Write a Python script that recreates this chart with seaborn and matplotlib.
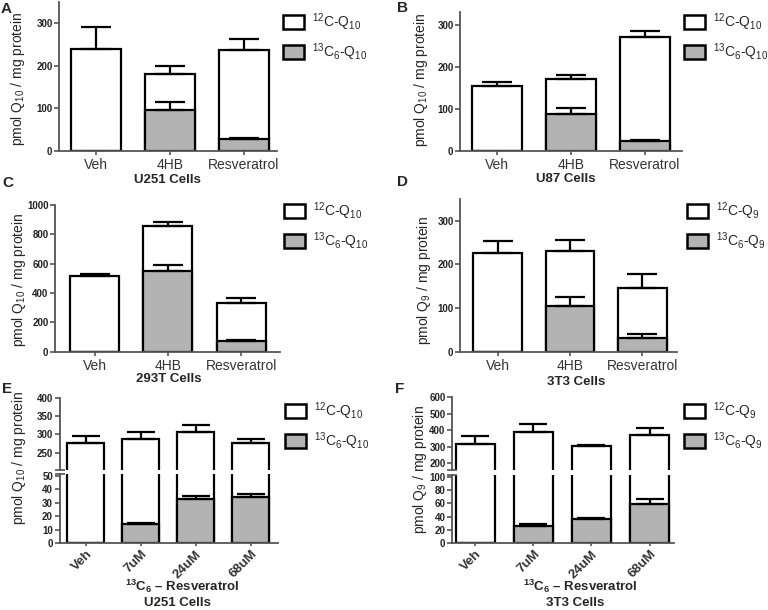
import matplotlib
matplotlib.use("Agg")
import matplotlib.pyplot as plt
import numpy as np
import seaborn as sns
from matplotlib.patches import Patch

sns.set_style("ticks")
plt.rcParams["font.family"] = ["Liberation Sans", "DejaVu Sans"]
plt.rcParams["mathtext.fontset"] = "custom"
plt.rcParams["mathtext.rm"] = "Liberation Sans"
plt.rcParams["mathtext.bf"] = "Liberation Sans:bold"
plt.rcParams["mathtext.default"] = "regular"

W, H = 768, 610
GRAY = "#b3b3b3"
SPINE = "#555555"
LW = 1.6

# ---- data (mean and SD) ----
drug_cats = ["Veh", "4HB", "Resveratrol"]
dose_cats = ["Veh", "7uM", "24uM", "68uM"]

# A: U251
u251_total = [240, 180, 238]
u251_total_sd = [52, 20, 24]
u251_lab = [0, 96, 28]
u251_lab_sd = [0, 20, 3]
# B: U87
u87_total = [155, 170, 271]
u87_total_sd = [8, 10, 13]
u87_lab = [0, 89, 23]
u87_lab_sd = [0, 13, 3]
# C: 293T
t293_total = [518, 855, 330]
t293_total_sd = [10, 29, 38]
t293_lab = [0, 548, 70]
t293_lab_sd = [0, 45, 7]
# D: 3T3
t3_total = [226, 231, 147]
t3_total_sd = [28, 24, 32]
t3_lab = [0, 104, 31]
t3_lab_sd = [0, 21, 9]
# E: U251 dose
u251d_total = [275, 287, 306, 277]
u251d_total_sd = [21, 19, 19, 11]
u251d_lab = [0, 14, 33, 34.5]
u251d_lab_sd = [0, 1, 2.5, 2]
# F: 3T3 dose
t3d_total = [320, 388, 307, 369]
t3d_total_sd = [46, 48, 7, 47]
t3d_lab = [0, 26.5, 37, 58.5]
t3d_lab_sd = [0, 2.5, 1.5, 8.5]

fig = plt.figure(figsize=(W / 100, H / 100), dpi=100)


def add_ax(l, t, r, b):
    return fig.add_axes([l / W, 1 - b / H, (r - l) / W, (b - t) / H])


def ftext(x, y, s, **kw):
    fig.text(x / W, 1 - y / H, s, ha="center", va="center", **kw)


def draw_bars(ax, cats, total, total_sd, lab, lab_sd, capsize):
    sns.barplot(x=cats, y=total, order=cats, color="white", edgecolor="black",
                linewidth=LW, width=0.67, saturation=1, errorbar=None, ax=ax)
    sns.barplot(x=cats, y=lab, order=cats, color=GRAY, edgecolor="black",
                linewidth=LW, width=0.67, saturation=1, errorbar=None, ax=ax)
    x = np.arange(len(cats))
    ax.errorbar(x, total, yerr=[np.zeros(len(cats)), total_sd], fmt="none",
                ecolor="black", elinewidth=LW, capsize=capsize, capthick=LW)
    lab = np.array(lab, dtype=float)
    m = lab > 0
    ax.errorbar(x[m], lab[m], yerr=[np.zeros(m.sum()), np.array(lab_sd)[m]],
                fmt="none", ecolor="black", elinewidth=LW, capsize=capsize,
                capthick=LW)
    ax.set_xlabel("")
    ax.set_ylabel("")


def style_ax(ax, yticks, rotate=False):
    for s in ["top", "right"]:
        ax.spines[s].set_visible(False)
    for s in ["left", "bottom"]:
        ax.spines[s].set_color(SPINE)
        ax.spines[s].set_linewidth(1.3)
    ax.set_yticks(yticks)
    ax.tick_params(axis="y", length=3.5, width=1.2, color=SPINE, labelsize=7,
                   pad=1.2, labelcolor="#222222")
    ax.tick_params(axis="x", length=3, width=1.2, color=SPINE, labelsize=10,
                   pad=2, labelcolor="#333333")
    for t in ax.get_yticklabels():
        t.set_fontweight("bold")
    if rotate:
        ax.tick_params(axis="x", length=2.5, pad=1)
        for t in ax.get_xticklabels():
            t.set_rotation(45)
            t.set_ha("right")
            t.set_rotation_mode("anchor")
            t.set_fontweight("bold")
            t.set_fontsize(9.5)


def add_legend(ax, q, x, y):
    handles = [Patch(facecolor="white", edgecolor="black", lw=1.8),
               Patch(facecolor=GRAY, edgecolor="black", lw=1.8)]
    labels = [r"$^{12}$C-Q$_{%s}$" % q, r"$^{13}$C$_6$-Q$_{%s}$" % q]
    ax.legend(handles, labels, loc="upper left",
              bbox_to_anchor=(x / W, 1 - y / H), bbox_transform=fig.transFigure,
              frameon=False, handlelength=1.5, handleheight=1.15,
              handletextpad=0.6, labelspacing=0.6, borderaxespad=0,
              borderpad=0, fontsize=10)


def simple_panel(box, xlim, ylim, yticks, cats, total, tsd, lab, lsd, q, leg):
    ax = add_ax(*box)
    draw_bars(ax, cats, total, tsd, lab, lsd, 11)
    ax.set_xlim(*xlim)
    ax.set_ylim(*ylim)
    style_ax(ax, yticks)
    add_legend(ax, q, *leg)
    return ax


def broken_panel(box, split, xlim, ylim_top, ylim_bot, yt_top, yt_bot,
                 cats, total, tsd, lab, lsd, q, leg):
    l, t, r, b = box
    top_b, bot_t = split
    ax_t = add_ax(l, t, r, top_b)
    ax_b = add_ax(l, bot_t, r, b)
    for ax in (ax_t, ax_b):
        draw_bars(ax, cats, total, tsd, lab, lsd, 10)
        ax.set_xlim(*xlim)
    ax_t.set_ylim(*ylim_top)
    ax_b.set_ylim(*ylim_bot)
    style_ax(ax_t, yt_top)
    style_ax(ax_b, yt_bot, rotate=True)
    ax_t.spines["bottom"].set_visible(False)
    ax_t.set_xticks([])
    # break marks
    kw = dict(marker="_", markersize=7, mew=1.2, color=SPINE,
              linestyle="none", clip_on=False)
    ax_t.plot([0], [0], transform=ax_t.transAxes, **kw)
    ax_b.plot([0], [1], transform=ax_b.transAxes, **kw)
    add_legend(ax_t, q, *leg)
    return ax_t, ax_b


# A
simple_panel((59, 2, 277, 151), (-0.5, 2.45), (0, 350), [0, 100, 200, 300],
             drug_cats, u251_total, u251_total_sd, u251_lab, u251_lab_sd,
             "10", (283, 11))
# B
simple_panel((460, 12, 682, 151), (-0.5, 2.5), (0, 330), [0, 100, 200, 300],
             drug_cats, u87_total, u87_total_sd, u87_lab, u87_lab_sd,
             "10", (684, 11))
# C
simple_panel((55, 205, 280, 351.7), (-0.54, 2.53), (0, 1000),
             [0, 200, 400, 600, 800, 1000],
             drug_cats, t293_total, t293_total_sd, t293_lab, t293_lab_sd,
             "10", (284, 200))
# D
simple_panel((460, 199, 677, 351.7), (-0.52, 2.48), (0, 350), [0, 100, 200, 300],
             drug_cats, t3_total, t3_total_sd, t3_lab, t3_lab_sd,
             "9", (687, 200))
# E
broken_panel((59.5, 398, 278, 543.3), (470, 474), (-0.48, 3.5), (202, 400),
             (0, 51.5), [250, 300, 350, 400], [0, 10, 20, 30, 40, 50],
             dose_cats, u251d_total, u251d_total_sd, u251d_lab, u251d_lab_sd,
             "10", (285, 400))
# F
broken_panel((452, 397.3, 674, 543.3), (470, 474.5), (-0.4, 3.42), (160, 600),
             (0, 103), [200, 300, 400, 500, 600], [0, 20, 40, 60, 80, 100],
             dose_cats, t3d_total, t3d_total_sd, t3d_lab, t3d_lab_sd,
             "9", (684, 400))

# panel letters
for s, x, y in [("A", 6.5, 9), ("B", 403, 7.5), ("C", 7.5, 182.5),
                ("D", 402.5, 182), ("E", 7, 389), ("F", 399.5, 389)]:
    ftext(x, y, s, fontsize=11, fontweight="bold")

# y labels
ylab10 = r"pmol Q$_{10}$ / mg protein"
ylab9 = r"pmol Q$_{9}$ / mg protein"
for s, x, y in [(ylab10, 18.5, 79), (ylab10, 421, 80), (ylab10, 19, 280),
                (ylab9, 424, 281), (ylab10, 19, 458), (ylab9, 420, 470)]:
    ftext(x, y, s, fontsize=10, rotation=90)

# cell-line labels
for s, x, y in [("U251 Cells", 167.5, 180), ("U87 Cells", 566, 179),
                ("293T Cells", 169, 379), ("3T3 Cells", 576.5, 382),
                ("U251 Cells", 177, 603.5), ("3T3 Cells", 575.5, 603.5)]:
    ftext(x, y, s, fontsize=9.5, fontweight="bold")
for x in [182.5, 580.5]:
    ftext(x, 586.5, r"$^{13}$C$_6$ – Resveratrol", fontsize=9.5,
          fontweight="bold")

fig.savefig("out.png", dpi=100)
